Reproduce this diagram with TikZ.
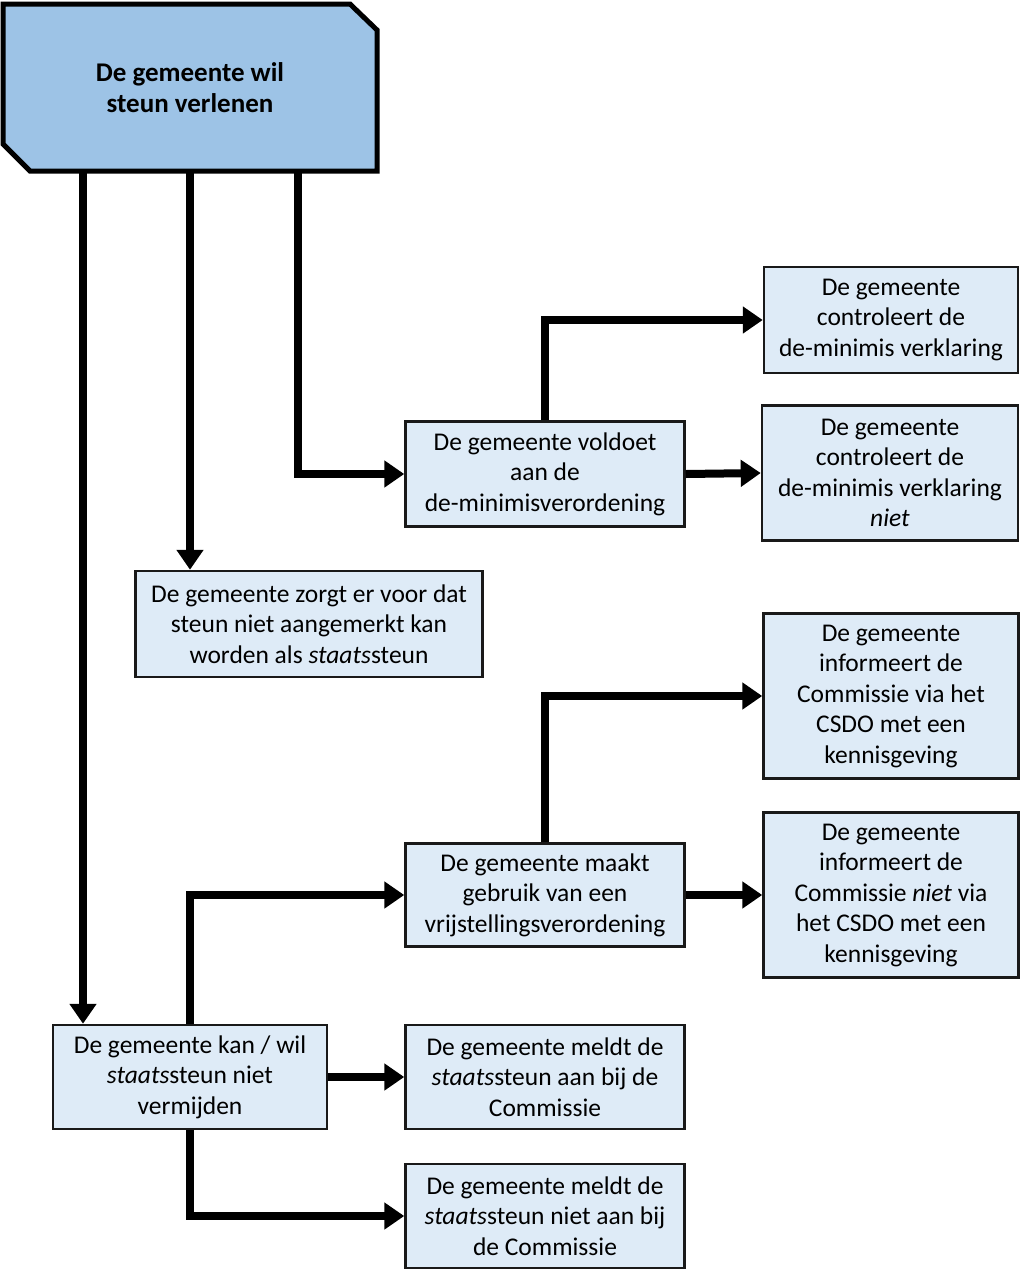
\documentclass[tikz,border=0pt]{standalone}
\usepackage{fontspec}
\setmainfont{Carlito}
\usetikzlibrary{arrows.meta}
\definecolor{boxfill}{HTML}{DEEBF7}
\definecolor{topfill}{HTML}{9DC3E6}
\begin{document}
\begin{tikzpicture}[x=1pt,y=-1pt,
  box/.style={draw=black!90, line width=2.5pt, fill=boxfill, align=center, inner sep=0pt,
    font=\fontsize{25.5}{30.5}\selectfont},
  conn/.style={line width=8pt, -{Triangle[length=20pt,width=26pt]}},
  plain/.style={line width=8pt}]
\useasboundingbox (0,0) rectangle (1024,1278);
% top box
\node[minimum width=374pt, minimum height=168pt, inner sep=0pt] (top) at (190,88) {};
\fill[topfill] (3,4) -- (350,4) -- (377,30) -- (377,171) -- (30,171) -- (3,144) -- cycle;
\draw[line width=5pt, line join=miter] (3,4) -- (350,4) -- (377,30) -- (377,171) -- (30,171) -- (3,144) -- cycle;
\node[align=center, font=\fontsize{27}{31}\selectfont\bfseries] at (top.center) {De gemeente wil\\steun verlenen};
% boxes
\node[box, minimum width=279pt, minimum height=105pt] (voldoet) at (545,474) {De gemeente voldoet\\aan de\\de-minimisverordening};
\node[box, minimum width=254pt, minimum height=106pt] (contr) at (891,320) {De gemeente\\controleert de\\de-minimis verklaring};
\node[box, minimum width=256pt, minimum height=135pt] (contrn) at (890,473) {De gemeente\\controleert de\\de-minimis verklaring\\\textit{niet}};
\node[box, minimum width=347pt, minimum height=106pt] (zorgt) at (309,624) {De gemeente zorgt er voor dat\\steun niet aangemerkt kan\\worden als \textit{staats}steun};
\node[box, minimum width=255pt, minimum height=165pt] (inf) at (891,696) {De gemeente\\informeert de\\Commissie via het\\CSDO met een\\kennisgeving};
\node[box, minimum width=279pt, minimum height=103pt] (maakt) at (545,895) {De gemeente maakt\\gebruik van een\\vrijstellingsverordening};
\node[box, minimum width=255pt, minimum height=165pt] (infn) at (891,895) {De gemeente\\informeert de\\Commissie \textit{niet} via\\het CSDO met een\\kennisgeving};
\node[box, minimum width=274pt, minimum height=104pt] (kan) at (190,1077) {De gemeente kan / wil\\\textit{staats}steun niet\\vermijden};
\node[box, minimum width=279pt, minimum height=104pt] (meldt) at (545,1077) {De gemeente meldt de\\\textit{staats}steun aan bij de\\Commissie};
\node[box, minimum width=279pt, minimum height=104pt] (meldtn) at (545,1216) {De gemeente meldt de\\\textit{staats}steun niet aan bij\\de Commissie};
% connectors
\draw[conn] (top.south -| 83,0) -- (kan.north -| 83,0);
\draw[conn] (top.south -| 190,0) -- (zorgt.north -| 190,0);
\draw[conn] (top.south -| 298,0) |- (voldoet.west);
\draw[conn] (voldoet.north) |- (contr.west);
\draw[conn] (voldoet.east) -- (contrn.west);
\draw[conn] (kan.north) |- (maakt.west);
\draw[conn] (maakt.north) |- (inf.west);
\draw[conn] (maakt.east) -- (infn.west);
\draw[conn] (kan.east) -- (meldt.west);
\draw[conn] (kan.south) |- (meldtn.west);
\end{tikzpicture}
\end{document}
